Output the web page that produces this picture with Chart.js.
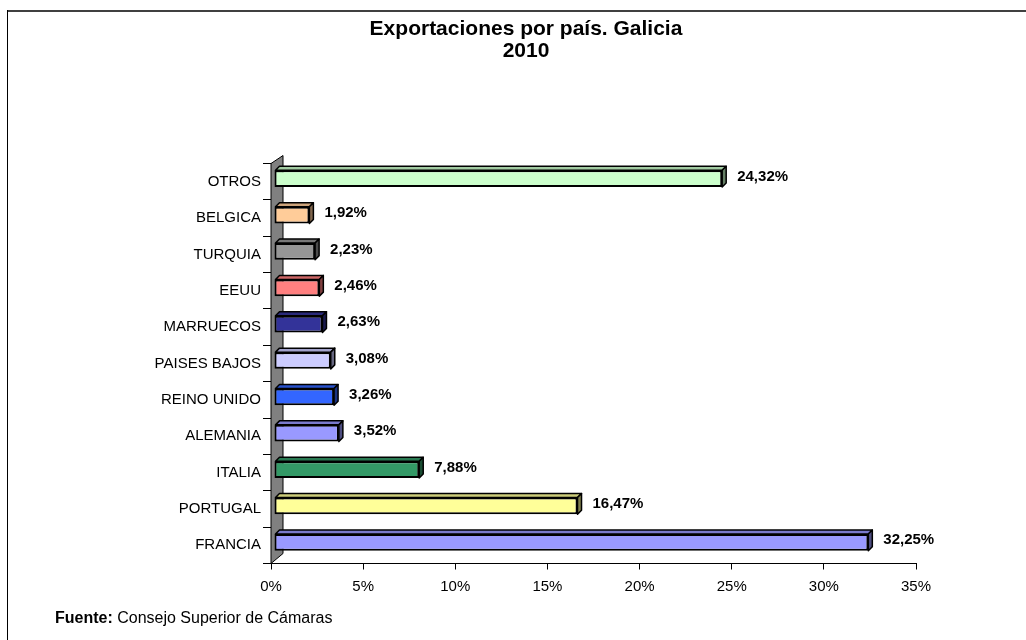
<!DOCTYPE html>
<html><head><meta charset="utf-8">
<script src="https://cdn.jsdelivr.net/npm/chart.js@4.4.0/dist/chart.umd.min.js"></script>
<style>html,body{margin:0;padding:0;background:#fff;} canvas{display:block;}</style>
</head><body>
<canvas id="c" width="1026" height="640"></canvas>
<script>
const categories = ['OTROS','BELGICA','TURQUIA','EEUU','MARRUECOS','PAISES BAJOS','REINO UNIDO','ALEMANIA','ITALIA','PORTUGAL','FRANCIA'];
const shares = [24.32, 1.92, 2.23, 2.46, 2.63, 3.08, 3.26, 3.52, 7.88, 16.47, 32.25];
const barColors = ['#CCFFCC','#FFCC99','#969696','#FF8080','#333399','#CCCCFF','#3366FF','#9999FF','#339966','#FFFF99','#9999FF'];
const xTicks = [0, 5, 10, 15, 20, 25, 30, 35];
const titleLines = ['Exportaciones por país. Galicia', '2010'];
const sourceLabel = 'Fuente:';
const sourceText = 'Consejo Superior de Cámaras';

const FONT = "'Liberation Sans', Arial, Helvetica, sans-serif";
const DX = 4, DY = 4, SHIFT_X = 3, SHIFT_Y = -3;

function shade(hex, f) {
  const n = parseInt(hex.slice(1), 16);
  const r = Math.round(((n >> 16) & 255) * f), g = Math.round(((n >> 8) & 255) * f), b = Math.round((n & 255) * f);
  return 'rgb(' + r + ',' + g + ',' + b + ')';
}
function fmt(v) { return v.toFixed(2).replace('.', ',') + '%'; }

const threeD = {
  id: 'threeD',
  beforeDatasetsDraw(chart) {
    const ctx = chart.ctx, a = chart.chartArea;
    ctx.save();
    ctx.beginPath();
    ctx.moveTo(a.left, a.bottom);
    ctx.lineTo(a.left, a.top);
    ctx.lineTo(a.left + 12, a.top - 8);
    ctx.lineTo(a.left + 12, a.bottom - 10);
    ctx.closePath();
    ctx.fillStyle = '#808080';
    ctx.fill();
    ctx.strokeStyle = '#000';
    ctx.lineWidth = 1;
    ctx.stroke();
    ctx.restore();
    ctx.save();
    ctx.translate(SHIFT_X, SHIFT_Y);
  },
  afterDatasetsDraw(chart) {
    const ctx = chart.ctx;
    const meta = chart.getDatasetMeta(0);
    ctx.lineWidth = 1.5;
    ctx.strokeStyle = '#000';
    ctx.lineJoin = 'round';
    meta.data.forEach((bar, i) => {
      const c = barColors[i];
      const x0 = bar.base, x1 = bar.x;
      const top = bar.y - bar.height / 2, bot = bar.y + bar.height / 2;
      ctx.beginPath();
      ctx.moveTo(x0 + 1, top);
      ctx.lineTo(x0 + 1 + DX, top - DY);
      ctx.lineTo(x1 + DX, top - DY);
      ctx.lineTo(x1, top);
      ctx.closePath();
      ctx.fillStyle = shade(c, 0.8);
      ctx.fill();
      ctx.stroke();
      ctx.beginPath();
      ctx.moveTo(x1, top);
      ctx.lineTo(x1 + DX, top - DY);
      ctx.lineTo(x1 + DX, bot - DY);
      ctx.lineTo(x1, bot);
      ctx.closePath();
      ctx.fillStyle = shade(c, 0.5);
      ctx.fill();
      ctx.stroke();
    });
    ctx.restore();
    ctx.save();
    ctx.font = 'bold 15px ' + FONT;
    ctx.fillStyle = '#000';
    ctx.textAlign = 'left';
    ctx.textBaseline = 'middle';
    meta.data.forEach((bar, i) => {
      ctx.fillText(fmt(shares[i]), bar.x + SHIFT_X + DX + 11, bar.y + SHIFT_Y - 2);
    });
    ctx.restore();
  },
  afterDraw(chart) {
    const ctx = chart.ctx;
    ctx.save();
    ctx.fillStyle = '#000';
    // title
    ctx.textAlign = 'center';
    ctx.textBaseline = 'middle';
    ctx.font = 'bold 21px ' + FONT;
    ctx.fillText(titleLines[0], 526, 29);
    ctx.fillText(titleLines[1], 526, 51);
    // source
    ctx.textBaseline = 'alphabetic';
    ctx.textAlign = 'left';
    ctx.font = 'bold 16px ' + FONT;
    ctx.fillText(sourceLabel, 55, 623);
    const w = ctx.measureText(sourceLabel + ' ').width;
    ctx.font = '16px ' + FONT;
    ctx.fillText(sourceText, 55 + w, 623);
    // frame
    ctx.strokeStyle = '#404040';
    ctx.lineWidth = 2;
    ctx.beginPath();
    ctx.moveTo(7, 11);
    ctx.lineTo(1026, 11);
    ctx.stroke();
    ctx.strokeStyle = '#000';
    ctx.lineWidth = 1;
    ctx.beginPath();
    ctx.moveTo(7.5, 10);
    ctx.lineTo(7.5, 640);
    ctx.stroke();
    ctx.restore();
  }
};

Chart.defaults.font.family = FONT;
Chart.defaults.color = '#000';

new Chart(document.getElementById('c'), {
  type: 'bar',
  data: {
    labels: categories,
    datasets: [{
      data: shares,
      backgroundColor: barColors,
      borderColor: '#000',
      borderWidth: 2,
      borderSkipped: false,
      barPercentage: 0.46,
      categoryPercentage: 1
    }]
  },
  options: {
    indexAxis: 'y',
    responsive: false,
    animation: false,
    devicePixelRatio: 1,
    layout: { padding: { left: 0, right: 110, top: 163.5, bottom: 0 } },
    plugins: {
      legend: { display: false },
      tooltip: { enabled: false },
      title: { display: false }
    },
    scales: {
      x: {
        min: 0, max: 35,
        afterBuildTicks: s => { s.ticks = xTicks.map(v => ({ value: v })); },
        afterFit: s => { s.height = 76.5; },
        ticks: { callback: v => v + '%', font: { size: 15 }, padding: 8, color: '#000', maxRotation: 0 },
        grid: { drawOnChartArea: false, tickLength: 6, color: '#000' },
        border: { display: true, color: '#000', width: 1 }
      },
      y: {
        afterFit: s => { s.width = 271; },
        ticks: { font: { size: 15 }, padding: 2, color: '#000' },
        grid: { drawOnChartArea: false, tickLength: 8, color: '#000', offset: true },
        border: { display: true, color: '#000', width: 1 }
      }
    }
  },
  plugins: [threeD]
});
</script>
</body></html>
